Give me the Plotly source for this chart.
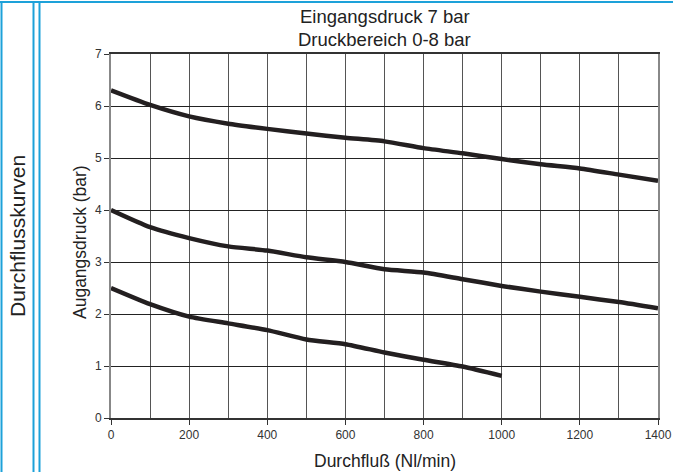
import plotly.graph_objects as go

# ---- data ----
flow_x = [0, 100, 200, 300, 400, 500, 600, 700, 800, 900, 1000, 1100, 1200, 1300, 1400]
curve_high = [6.30, 6.02, 5.80, 5.66, 5.56, 5.47, 5.39, 5.32, 5.19, 5.09, 4.98, 4.88, 4.80, 4.68, 4.56]
curve_mid = [4.00, 3.67, 3.46, 3.30, 3.22, 3.09, 3.00, 2.86, 2.80, 2.67, 2.54, 2.43, 2.33, 2.23, 2.11]
flow_x_low = [0, 100, 200, 300, 400, 500, 600, 700, 800, 900, 1000]
curve_low = [2.50, 2.19, 1.95, 1.82, 1.69, 1.51, 1.42, 1.26, 1.12, 0.99, 0.81]

title_lines = ["Eingangsdruck 7 bar", "Druckbereich 0-8 bar"]
x_title = "Durchfluß (Nl/min)"
y_title = "Augangsdruck (bar)"
side_label = "Durchflusskurven"

# ---- layout geometry (pixels) ----
W, H = 673, 472
L, R, T, B = 111, 15, 54, 54
PW, PH = W - L - R, H - T - B


def px(xp):
    return (xp - L) / PW


def py(yp):
    return (H - B - yp) / PH


FONT = "Liberation Sans, Arial, sans-serif"
LINE_COLOR = "#231f20"
BLUE = "#1da1d9"

fig = go.Figure()
for xs, ys in [(flow_x, curve_high), (flow_x, curve_mid), (flow_x_low, curve_low)]:
    fig.add_trace(go.Scatter(x=xs, y=ys, mode="lines",
                             line=dict(color=LINE_COLOR, width=4.5, shape="spline", smoothing=0.6),
                             showlegend=False, hoverinfo="skip"))

fig.update_layout(
    width=W, height=H,
    margin=dict(l=L, r=R, t=T, b=B, autoexpand=False),
    paper_bgcolor="white", plot_bgcolor="white",
    font=dict(family=FONT, color="#222"),
    showlegend=False,
)

fig.update_xaxes(
    range=[0, 1400], dtick=200, tick0=0,
    showgrid=True, gridcolor="#555", gridwidth=1,
    minor=dict(dtick=100, showgrid=True, gridcolor="#555", gridwidth=1),
    showline=True, linecolor="#333", linewidth=1.5, mirror=True,
    ticks="outside", ticklen=5, tickcolor="#333",
    tickfont=dict(size=12, color="#333", family=FONT),
    zeroline=False, fixedrange=True, automargin=False,
)
fig.update_yaxes(
    range=[0, 7], dtick=1, tick0=0,
    showgrid=True, gridcolor="#222", gridwidth=1,
    showline=True, linecolor="#888", linewidth=2, mirror=True,
    ticks="outside", ticklen=5, tickcolor="#333",
    tickfont=dict(size=12, color="#333", family=FONT),
    zeroline=False, fixedrange=True, automargin=False,
)

annotations = [
    dict(text=title_lines[0], x=0.5, y=py(17), xref="paper", yref="paper",
         showarrow=False, xanchor="center", yanchor="middle", font=dict(size=18.5, color="#222", family=FONT)),
    dict(text=title_lines[1], x=0.5, y=py(40), xref="paper", yref="paper",
         showarrow=False, xanchor="center", yanchor="middle", font=dict(size=18.5, color="#222", family=FONT)),
    dict(text=x_title, x=0.5, y=py(461), xref="paper", yref="paper",
         showarrow=False, xanchor="center", yanchor="middle", font=dict(size=17.5, color="#222", family=FONT)),
    dict(text=y_title, x=px(80), y=py(242), xref="paper", yref="paper", textangle=-90,
         showarrow=False, xanchor="center", yanchor="middle", font=dict(size=17.5, color="#222", family=FONT)),
    dict(text=side_label, x=px(17), y=py(236), xref="paper", yref="paper", textangle=-90,
         showarrow=False, xanchor="center", yanchor="middle", font=dict(size=21, color="#222", family=FONT)),
]
fig.update_layout(annotations=annotations)

shapes = [
    dict(type="line", xref="paper", yref="paper", x0=px(0), x1=px(W), y0=py(2), y1=py(2),
         line=dict(color=BLUE, width=2)),
]
for xv in [1.5, 33.5, 39.5]:
    shapes.append(dict(type="line", xref="paper", yref="paper", x0=px(xv), x1=px(xv),
                       y0=py(1), y1=py(H), line=dict(color=BLUE, width=2)))
fig.update_layout(shapes=shapes)

fig.write_html("out.html", config={"displayModeBar": False},
               post_script="document.body.style.margin='0';document.body.style.overflow='hidden';")
